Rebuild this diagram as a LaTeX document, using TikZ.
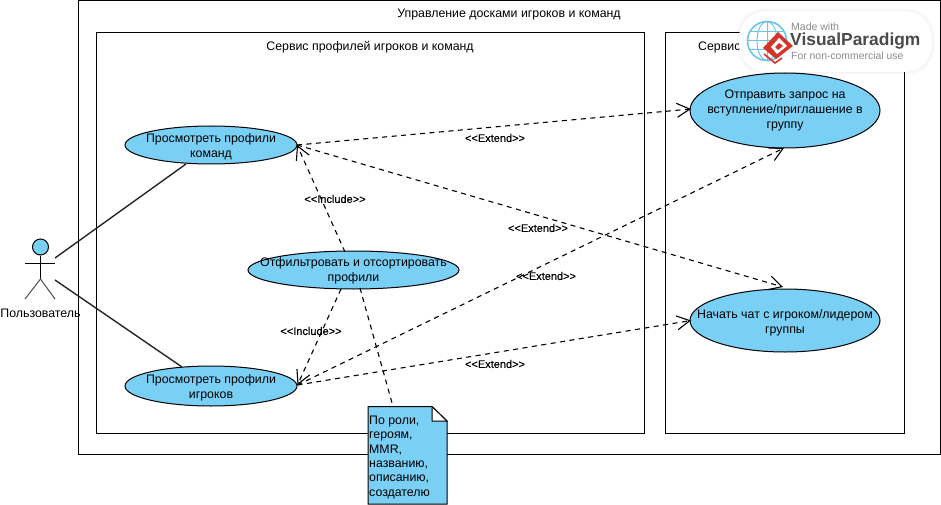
\documentclass[tikz,border=0pt]{standalone}
\usepackage{fontspec}
\setmainfont{Liberation Sans}
\newfontfamily\stereofont[BoldFont={Liberation Sans},BoldFeatures={FakeBold=0.4}]{Liberation Sans}
\usetikzlibrary{arrows.meta,shapes.geometric}
\definecolor{fillblue}{HTML}{7ACFF5}
\definecolor{logogray}{HTML}{8A8A8A}
\definecolor{logodark}{HTML}{4A4A4A}
\definecolor{logored}{HTML}{D5342B}
\definecolor{globeblue}{HTML}{6CC4EC}
\tikzset{
  every node/.style={font=\fontsize{12.35}{15.3}\selectfont},
  sysbox/.style={draw=black,line width=1pt,fill=none,anchor=north west,inner sep=0pt},
  usecase/.style={draw=black,line width=1pt,fill=fillblue,ellipse,inner sep=0pt},
  uclabel/.style={inner sep=0pt,align=center},
  assoc/.style={draw=black!85,line width=1.4pt},
  dep/.style={draw=black,line width=1.1pt,dash pattern=on 5pt off 4.5pt,-{Straight Barb[length=13pt,width=14pt,line width=1.1pt]}},
  depnote/.style={draw=black,line width=1.1pt,dash pattern=on 5pt off 4.5pt},
  stereo/.style={font=\fontsize{11}{12}\stereofont\bfseries\selectfont,inner sep=0pt},
  title/.style={inner sep=0pt},
}
\begin{document}
\begin{tikzpicture}[x=1pt,y=-1pt]
\useasboundingbox (0,0) rectangle (941,505);
\fill[white] (0,0) rectangle (941,505);
% boxes
\node[sysbox,minimum width=862pt,minimum height=453pt] (outer) at (78,0.5) {};
\node[sysbox,minimum width=548pt,minimum height=401pt] (svcA) at (96,32) {};
\node[sysbox,minimum width=239pt,minimum height=401pt] (svcB) at (665,32) {};
\node[title] (tOuter) at (509,15) {Управление досками игроков и команд};
\node[title] (tA) at (370,47) {Сервис профилей игроков и команд};
\node[title,anchor=west] (tB) at (698,47) {Сервис};
% use cases
\node[usecase,minimum width=172pt,minimum height=38pt] (uTeams) at (211,145) {};
\node[uclabel] (lTeams) at (211,146.5) {Просмотреть профили\\команд};
\node[usecase,minimum width=211pt,minimum height=38pt] (uFilter) at (353.5,270) {};
\node[uclabel] (lFilter) at (353.5,271) {Отфильтровать и отсортировать\\профили};
\node[usecase,minimum width=172pt,minimum height=40pt] (uPlayers) at (211,386) {};
\node[uclabel] (lPlayers) at (211,387.5) {Просмотреть профили\\игроков};
\node[usecase,minimum width=190pt,minimum height=75pt] (uInvite) at (785,110.5) {};
\node[uclabel] (lInvite) at (785,110.5) {Отправить запрос на\\вступление/приглашение в\\группу};
\node[usecase,minimum width=190pt,minimum height=63pt] (uChat) at (785,320.5) {};
\node[uclabel] (lChat) at (785,322.5) {Начать чат с игроком/лидером\\группы};
% actor
\node[circle,draw=black,line width=1pt,fill=fillblue,minimum size=16pt,inner sep=0pt] (head) at (40.5,247) {};
\coordinate (shL) at (25,263);
\coordinate (shR) at (55,263);
\coordinate (hip) at (40.5,279);
\coordinate (ftL) at (25,299);
\coordinate (ftR) at (55,299);
\draw[line width=1pt] (head.south) -- (hip);
\draw[line width=1pt] (shL) -- (shR);
\draw[line width=1pt,black!70] (ftL) -- (hip) -- (ftR);
\node[inner sep=0pt] (actor) at (40.5,313) {Пользователь};
% associations
\coordinate (a1) at (55,258);
\coordinate (a2) at (55,280);
\coordinate (b1) at (186,164);
\coordinate (b2) at (182,367);
\draw[assoc] (a1) -- (b1);
\draw[assoc] (a2) -- (b2);
% dependency end points
\coordinate (tTeams) at (297,145);
\coordinate (tPlayers) at (297.5,385);
\coordinate (tInviteW) at (691,109);
\coordinate (tInviteS) at (784,148);
\coordinate (tChatN) at (783,287);
\coordinate (tChatW) at (691,320.5);
\coordinate (fTop) at (345,252);
\coordinate (fBot) at (341,289);
\coordinate (fNote) at (360,288);
% dependencies
\draw[dep] (fTop) -- (tTeams);
\draw[dep] (fBot) -- (tPlayers);
\draw[dep] (tTeams) -- (tInviteW);
\draw[dep] (tTeams) -- (tChatN);
\draw[dep] (tPlayers) -- (tInviteS);
\draw[dep] (tPlayers) -- (tChatW);
% note
\coordinate (nA) at (368,406.5);
\coordinate (nB) at (432,406.5);
\coordinate (nC) at (447,421);
\coordinate (nD) at (447,504);
\coordinate (nE) at (368,504);
\coordinate (nTop) at (393,406.5);
\draw[depnote] (fNote) -- (nTop);
\filldraw[draw=black,line width=1pt,fill=fillblue] (nA) -- (nB) -- (nC) -- (nD) -- (nE) -- cycle;
\filldraw[draw=black,line width=1pt,fill=white] (nB) -- (432,421) -- (nC) -- cycle;
\node[anchor=north west,inner sep=0pt,align=left,font=\fontsize{12.35}{14.4}\selectfont] (note) at (369,415.5) {По роли,\\героям,\\MMR,\\названию,\\описанию,\\создателю};
% stereotypes
\node[stereo] (s1) at (335,199) {<{}<Include>{}>};
\node[stereo] (s2) at (311,331) {<{}<Include>{}>};
\node[stereo] (s3) at (495,138) {<{}<Extend>{}>};
\node[stereo] (s4) at (538,228) {<{}<Extend>{}>};
\node[stereo] (s5) at (546,276) {<{}<Extend>{}>};
\node[stereo] (s6) at (495,364) {<{}<Extend>{}>};
% logo
\foreach \g/\o in {3/0.012,2/0.015,1/0.02}{\fill[black,opacity=\o,rounded corners=28pt] (739-\g,11-\g) rectangle (932+\g,72+\g);}
\fill[white,rounded corners=27pt] (739,11) rectangle (932,72);
\node[circle,draw=globeblue,line width=1.6pt,fill=white,minimum size=39pt,inner sep=0pt] (globe) at (767,41) {};
\draw[globeblue,line width=1pt] (globe.north) -- (globe.south) (globe.west) -- (globe.east);
\draw[globeblue,line width=1pt] (767,41) ellipse (10pt and 19.5pt);
\draw[globeblue,line width=1pt] (750,32) -- (784,32) (750,50) -- (784,50);
\fill[logored] (763,48) -- (778,32) -- (793,46) -- (776,59) -- cycle;
\fill[white] (771,47) -- (779,38) -- (787,46) -- (777,54) -- cycle;
\fill[logored] (775,47) -- (779,43) -- (783,46) -- (778,50) -- cycle;
\draw[logored,line width=1.6pt] (764,54) -- (775,63) -- (782,58);
\node[anchor=west,inner sep=0pt,text=logogray,font=\fontsize{10.5}{12}\selectfont] (lg1) at (791,26.5) {Made with};
\node[anchor=west,inner sep=0pt,text=logodark,font=\fontsize{17.4}{20}\selectfont\bfseries] (lg2) at (790,41) {VisualParadigm};
\node[anchor=west,inner sep=0pt,text=logogray,font=\fontsize{10.4}{12}\selectfont] (lg3) at (791,55.5) {For non-commercial use};
\end{tikzpicture}
\end{document}
